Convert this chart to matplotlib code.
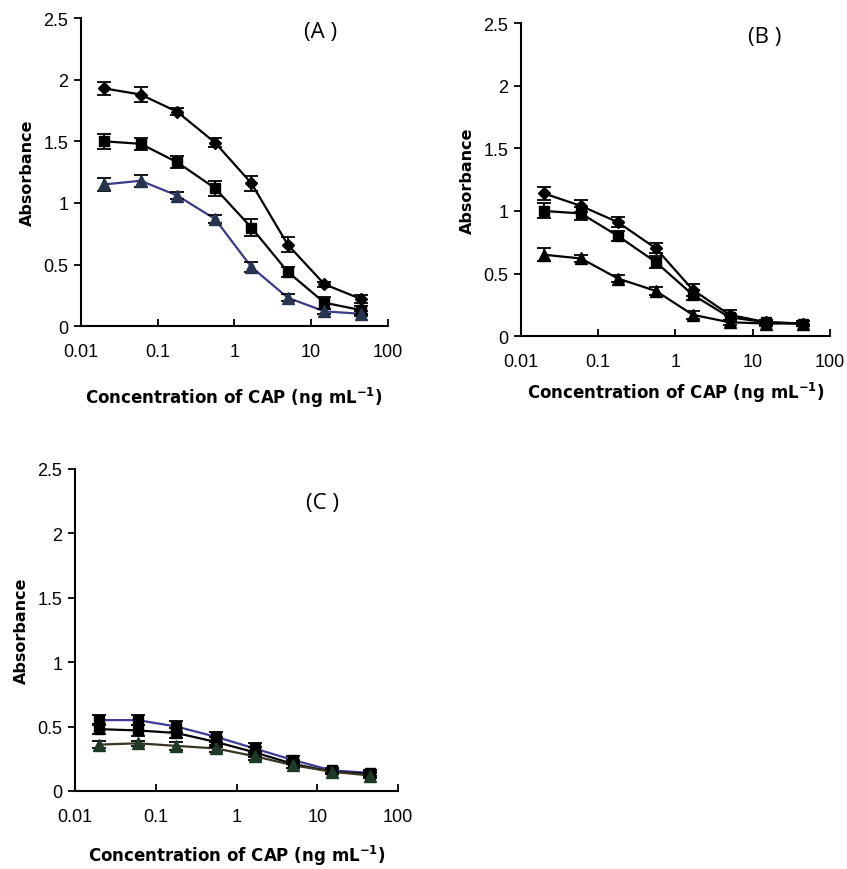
import numpy as np
import matplotlib
matplotlib.use("Agg")
import matplotlib.pyplot as plt

# CAP concentrations (ng/mL), same for every panel
conc = [0.02, 0.06, 0.18, 0.56, 1.67, 5.0, 15.0, 45.0]

# panel A
a_diamond = [1.93, 1.88, 1.74, 1.49, 1.16, 0.66, 0.34, 0.22]
a_square = [1.50, 1.48, 1.33, 1.12, 0.80, 0.44, 0.19, 0.13]
a_triangle = [1.15, 1.18, 1.06, 0.87, 0.48, 0.23, 0.12, 0.10]
a_diamond_err = [0.05, 0.06, 0.03, 0.04, 0.06, 0.06, 0.02, 0.03]
a_square_err = [0.06, 0.05, 0.05, 0.06, 0.07, 0.04, 0.05, 0.03]
a_triangle_err = [0.05, 0.05, 0.03, 0.03, 0.04, 0.03, 0.02, 0.02]

# panel B
b_diamond = [1.14, 1.04, 0.91, 0.70, 0.37, 0.17, 0.11, 0.10]
b_square = [1.00, 0.98, 0.80, 0.59, 0.33, 0.15, 0.11, 0.10]
b_triangle = [0.65, 0.62, 0.46, 0.36, 0.17, 0.11, 0.10, 0.10]
b_diamond_err = [0.05, 0.05, 0.04, 0.04, 0.05, 0.04, 0.02, 0.02]
b_square_err = [0.06, 0.05, 0.04, 0.05, 0.04, 0.03, 0.02, 0.02]
b_triangle_err = [0.05, 0.03, 0.03, 0.03, 0.03, 0.02, 0.02, 0.02]

# panel C
c_diamond = [0.55, 0.55, 0.50, 0.42, 0.33, 0.24, 0.16, 0.14]
c_square = [0.48, 0.47, 0.45, 0.38, 0.30, 0.21, 0.15, 0.13]
c_triangle = [0.36, 0.37, 0.35, 0.33, 0.27, 0.20, 0.15, 0.12]
c_diamond_err = [0.04, 0.04, 0.04, 0.04, 0.04, 0.03, 0.02, 0.02]
c_square_err = [0.04, 0.04, 0.04, 0.04, 0.04, 0.03, 0.02, 0.02]
c_triangle_err = [0.03, 0.02, 0.03, 0.03, 0.03, 0.02, 0.02, 0.02]

x_ticks = [0.01, 0.1, 1, 10, 100]
x_ticklabels = ["0.01", "0.1", "1", "10", "100"]
y_ticks = [0, 0.5, 1, 1.5, 2, 2.5]
y_ticklabels = ["0", "0.5", "1", "1.5", "2", "2.5"]

TICK_FONT = "Liberation Sans"
LABEL_FONT = "DejaVu Sans"
PANEL_FONT = "Open Sans"


def draw_series(ax, y, err, marker, msize, face, line):
    ax.plot(conc, y, color=line, lw=1.6, zorder=2)
    ax.errorbar(conc, y, yerr=err, fmt=marker, ms=msize, mfc=face, mec=face,
                ecolor="black", elinewidth=1.3, capsize=5, capthick=1.3,
                zorder=3)


def style_axes(ax, label, lx, ly, xpad):
    ax.set_xscale("log")
    ax.set_xlim(0.01, 100)
    ax.set_ylim(0, 2.5)
    ax.set_xticks(x_ticks)
    ax.set_xticklabels(x_ticklabels, fontname=TICK_FONT, fontsize=13)
    ax.xaxis.set_minor_locator(matplotlib.ticker.NullLocator())
    ax.set_yticks(y_ticks)
    ax.set_yticklabels(y_ticklabels, fontname=TICK_FONT, fontsize=13)
    ax.tick_params(axis="x", direction="in", length=5, width=1.3, pad=12)
    ax.tick_params(axis="y", direction="out", length=5, width=1.3, pad=4)
    for side in ["top", "right"]:
        ax.spines[side].set_visible(False)
    for side in ["left", "bottom"]:
        ax.spines[side].set_linewidth(1.5)
    ax.set_ylabel("Absorbance", fontname=LABEL_FONT, fontweight="bold",
                  fontsize=11.5, labelpad=6)
    ax.set_xlabel("Concentration of CAP (ng mL$^{\\mathbf{-1}}$)",
                  fontname=LABEL_FONT, fontweight="bold", fontsize=12,
                  labelpad=xpad)
    ax.text(lx, ly, label, transform=ax.transAxes, ha="center", va="center",
            fontname=PANEL_FONT, fontsize=16)


plt.rcParams["mathtext.fontset"] = "dejavusans"

fig = plt.figure(figsize=(8.47, 8.70), dpi=100)

ax_a = fig.add_axes([0.0956, 0.624, 0.362, 0.354])
draw_series(ax_a, a_diamond, a_diamond_err, "D", 6.5, "black", "black")
draw_series(ax_a, a_square, a_square_err, "s", 7, "black", "black")
draw_series(ax_a, a_triangle, a_triangle_err, "^", 8, "#26344f", "#3b3b8a")
style_axes(ax_a, "(A )", 0.78, 0.955, 18)

ax_b = fig.add_axes([0.615, 0.6126, 0.365, 0.3594])
draw_series(ax_b, b_diamond, b_diamond_err, "D", 6.5, "black", "black")
draw_series(ax_b, b_square, b_square_err, "s", 7, "black", "black")
draw_series(ax_b, b_triangle, b_triangle_err, "^", 8, "black", "black")
style_axes(ax_b, "(B )", 0.79, 0.958, 7)

ax_c = fig.add_axes([0.0885, 0.0897, 0.3815, 0.3701])
draw_series(ax_c, c_diamond, c_diamond_err, "s", 7, "black", "#3c3c96")
draw_series(ax_c, c_square, c_square_err, "s", 7, "black", "black")
draw_series(ax_c, c_triangle, c_triangle_err, "^", 8, "#1e3a26", "#3a3320")
style_axes(ax_c, "(C )", 0.765, 0.897, 13)

fig.savefig("out.png", dpi=100)
